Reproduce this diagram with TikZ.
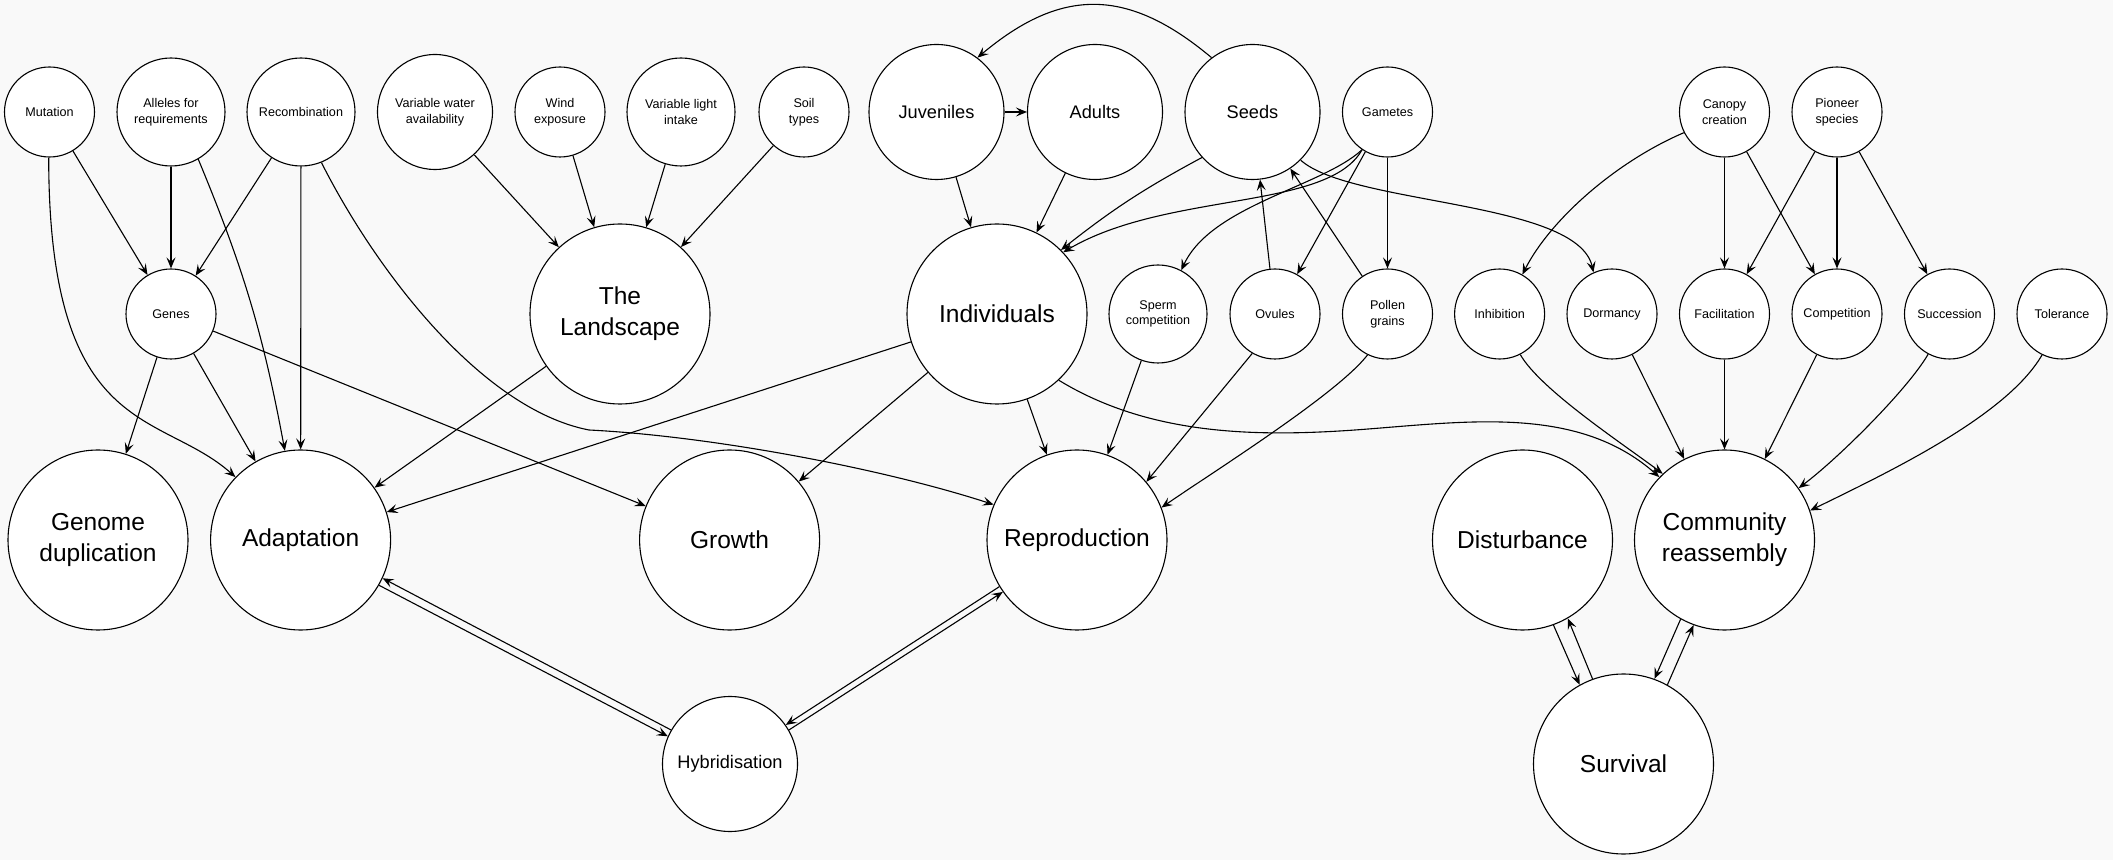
\documentclass[tikz,border=0pt]{standalone}
\usepackage{fontspec}
\setmainfont{Liberation Sans}
\usetikzlibrary{arrows.meta}
\definecolor{pagebg}{HTML}{F9F9F9}
\tikzset{
  concept/.style={circle,draw=black,fill=white,line width=1.1pt,inner sep=0pt,align=center},
  smallnode/.style={concept,minimum size=90pt,font=\fontsize{12.6}{15.5}\selectfont},
  midnode/.style={concept,minimum size=135pt,font=\fontsize{18.2}{22}\selectfont},
  bignode/.style={concept,minimum size=180pt,font=\fontsize{24.5}{31}\selectfont},
  myarrow/.style={-{Stealth[length=11pt,width=9pt,inset=4.5pt]},line width=1.1pt,black},
}

\begin{document}
\begin{tikzpicture}[x=1pt,y=1pt]
  \useasboundingbox (0,0) rectangle (2113,860);
  \fill[pagebg] (0,0) rectangle (2113,860);
  % top row
  \node[smallnode] (mut) at (49.5,748) {Mutation};
  \node[smallnode,minimum size=108pt] (alle) at (171,748) {Alleles for\\requirements};
  \node[smallnode,minimum size=108pt] (recomb) at (301,748) {Recombination};
  \node[smallnode,minimum size=115pt] (water) at (435,748) {Variable water\\availability};
  \node[smallnode] (wind) at (560,748) {Wind\\exposure};
  \node[smallnode,minimum size=108pt] (light) at (681,748) {Variable light\\intake};
  \node[smallnode] (soil) at (804,748) {Soil\\types};
  \node[midnode] (juv) at (936.5,748) {Juveniles};
  \node[midnode] (adult) at (1095,748) {Adults};
  \node[midnode] (seeds) at (1252.5,748) {Seeds};
  \node[smallnode] (gam) at (1387.5,748) {Gametes};
  \node[smallnode] (canopy) at (1724.5,748) {Canopy\\creation};
  \node[smallnode] (pioneer) at (1837,748) {Pioneer\\species};
  % second row
  \node[smallnode] (genes) at (171,546) {Genes};
  \node[bignode] (land) at (620,546) {The\\Landscape};
  \node[bignode] (indiv) at (997,546) {Individuals};
  \node[smallnode,minimum size=98pt] (sperm) at (1158,546) {Sperm\\competition};
  \node[smallnode] (ovules) at (1275,546) {Ovules};
  \node[smallnode] (pollen) at (1387.5,546) {Pollen\\grains};
  \node[smallnode] (inhib) at (1499.6,546) {Inhibition};
  \node[smallnode] (dorm) at (1612,546) {Dormancy};
  \node[smallnode] (facil) at (1724.5,546) {Facilitation};
  \node[smallnode] (compet) at (1837,546) {Competition};
  \node[smallnode] (succ) at (1949.5,546) {Succession};
  \node[smallnode] (toler) at (2062,546) {Tolerance};
  % third row
  \node[bignode] (genome) at (98,320) {Genome\\duplication};
  \node[bignode] (adapt) at (300.6,320) {Adaptation};
  \node[bignode] (growth) at (729.6,320) {Growth};
  \node[bignode] (repro) at (1077,320) {Reproduction};
  \node[bignode] (disturb) at (1522.5,320) {Disturbance};
  \node[bignode] (commun) at (1724.5,320) {Community\\reassembly};
  % bottom row
  \node[midnode] (hybrid) at (730,96) {Hybridisation};
  \node[bignode] (surv) at (1623.5,96) {Survival};

  % genetics
  \draw[myarrow] (mut) -- (genes);
  \draw[myarrow] (mut.-91) .. controls +(0,-282) and +(-75,67) .. (adapt.136);
  \draw[myarrow] (alle) -- (genes);
  \draw[myarrow] (alle.-60) to[bend left=6] (adapt.100);
  \draw[myarrow] (recomb) -- (genes);
  \draw[myarrow] (recomb) -- (adapt);
  \draw[myarrow] (recomb.-68) .. controls +(54,-107) and +(-108,21) .. (589,430)
    .. controls +(120,-6) and +(-114,37) .. (repro.157);
  \draw[myarrow] (genes) -- (genome);
  \draw[myarrow] (genes) -- (adapt);
  \draw[myarrow] (genes) -- (growth);
  % landscape
  \foreach \src in {water,wind,light,soil}
    \draw[myarrow] (\src) -- (land);
  \draw[myarrow] (land) -- (adapt);
  % life cycle
  \draw[myarrow] (juv) -- (adult);
  \draw[myarrow] (seeds.127) to[out=140,in=40,looseness=1.2] (juv.53);
  \draw[myarrow] (juv) -- (indiv);
  \draw[myarrow] (adult) -- (indiv);
  \draw[myarrow] (seeds.-138) to[bend right=5] (indiv.45);
  \draw[myarrow] (gam.-124) .. controls +(-34,-61) and +(103,61) .. (indiv.43);
  \draw[myarrow] (gam.-124) .. controls +(-40,-37) and +(30,65) .. (sperm.62);
  \draw[myarrow] (gam) -- (ovules);
  \draw[myarrow] (gam) -- (pollen);
  \draw[myarrow] (ovules) -- (seeds);
  \draw[myarrow] (pollen) -- (seeds);
  \draw[myarrow] (seeds.-45) .. controls +(50,-45) and +(-16,72) .. (dorm.114);
  % what individuals feed
  \draw[myarrow] (indiv) -- (adapt);
  \draw[myarrow] (indiv) -- (growth);
  \draw[myarrow] (indiv) -- (repro);
  \draw[myarrow] (indiv.-47) .. controls +(90,-55) and +(-100,-7) .. (1355,430)
    .. controls +(110,8) and +(-82.5,73) .. (commun.136);
  \draw[myarrow] (sperm) -- (repro);
  \draw[myarrow] (ovules.-120) -- (repro.40);
  \draw[myarrow] (pollen.-116) .. controls +(-30.5,-39.5) and +(49,34) .. (repro.21);
  % community
  \draw[myarrow] (canopy.-153) .. controls +(-70,-30) and +(27,53.4) .. (inhib.60);
  \draw[myarrow] (canopy) -- (facil);
  \draw[myarrow] (canopy) -- (compet);
  \draw[myarrow] (pioneer) -- (facil);
  \draw[myarrow] (pioneer) -- (compet);
  \draw[myarrow] (pioneer) -- (succ);
  \draw[myarrow] (inhib.-63) .. controls +(20,-35) and +(-40,30) .. (commun.133);
  \foreach \src in {dorm,facil,compet}
    \draw[myarrow] (\src) -- (commun);
  \draw[myarrow] (succ.-118) .. controls +(-20,-34.6) and +(40,30) .. (commun.35);
  \draw[myarrow] (toler.-116) .. controls +(-35,-60.6) and +(81,39.6) .. (commun.19);
  % two-way links
  \draw[myarrow] (hybrid.150) -- (adapt.-25);
  \draw[myarrow] (adapt.-30) -- (hybrid.156);
  \draw[myarrow] (repro.211) -- (hybrid.35);
  \draw[myarrow] (hybrid.30) -- (repro.215);
  \draw[myarrow] (disturb.-70) -- (surv.119);
  \draw[myarrow] (surv.110) -- (disturb.-60);
  \draw[myarrow] (commun.-119) -- (surv.70);
  \draw[myarrow] (surv.61) -- (commun.-110);
\end{tikzpicture}
\end{document}
